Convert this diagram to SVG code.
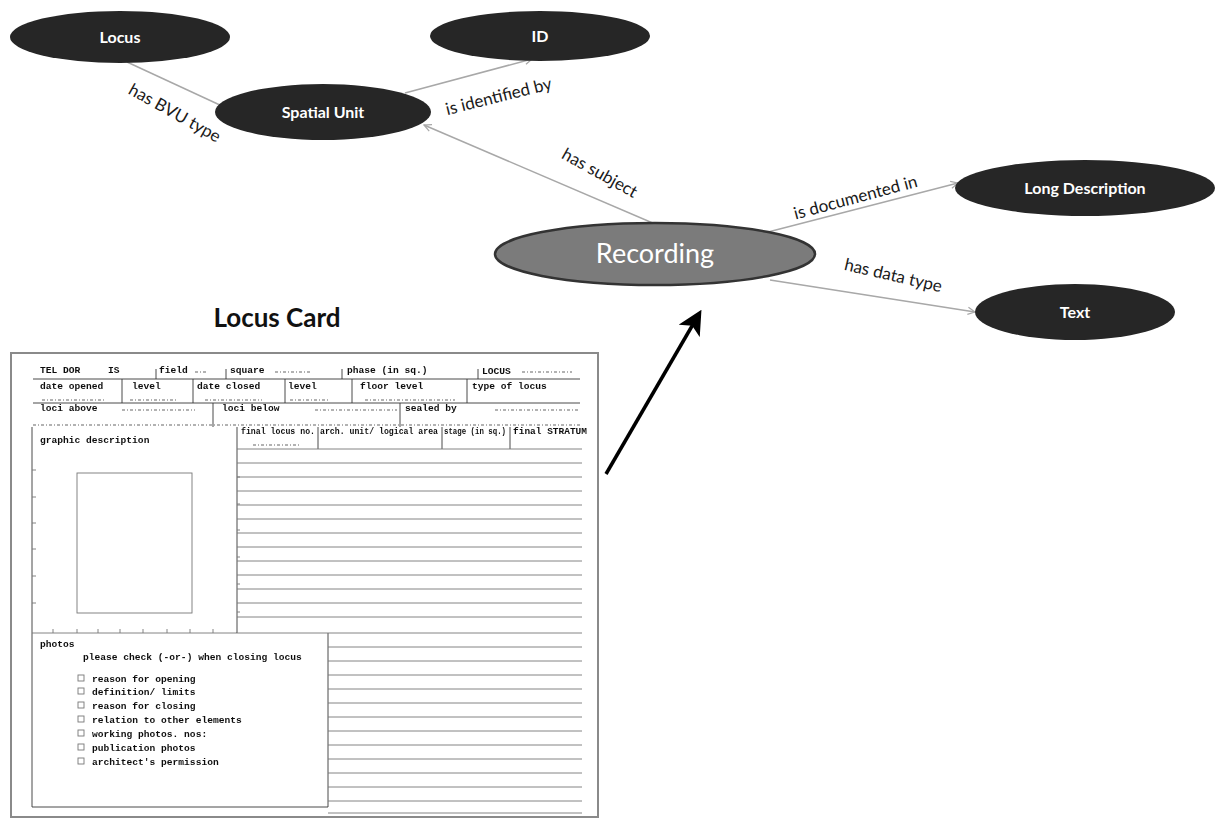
<svg xmlns="http://www.w3.org/2000/svg" width="1217" height="819" viewBox="0 0 1217 819">
  <defs>
    <marker id="chev" viewBox="0 0 10 10" refX="9" refY="5" markerWidth="9" markerHeight="9" orient="auto" markerUnits="userSpaceOnUse">
      <path d="M1,1 L9,5 L1,9" fill="none" stroke="#a8a8a8" stroke-width="1.4"/>
    </marker>
    <marker id="solid" viewBox="0 0 10 10" refX="8" refY="5" markerWidth="7" markerHeight="7" orient="auto">
      <path d="M0,0 L10,5 L0,10 L2.5,5 Z" fill="#000"/>
    </marker>
    <filter id="scan" x="-2%" y="-2%" width="104%" height="104%">
      <feGaussianBlur stdDeviation="0.35"/>
    </filter>
  </defs>
  <style>
    .node { fill: #262626; }
    .lbl { fill: #fff; font-family: Lato, "Open Sans", sans-serif; font-weight: bold; font-size: 16px; text-anchor: middle; }
    .edge { stroke: #a8a8a8; stroke-width: 1.5; fill: none; }
    .etxt { fill: #1a1a1a; font-family: Lato, "Open Sans", sans-serif; font-size: 17px; text-anchor: middle; }
    .ct { fill: #111; font-family: "Liberation Mono", "DejaVu Sans Mono", monospace; font-weight: bold; font-size: 9.6px; }
    .hd { font-size: 8.2px; }
    .rule { stroke: #333; stroke-width: 0.9; fill: none; }
    .soft { stroke: #777; stroke-width: 0.9; fill: none; }
    .scrib { stroke: #555; stroke-width: 0.9; fill: none; stroke-dasharray: 3 2 1 2; }
  </style>
  <rect width="1217" height="819" fill="#fff"/>

  <!-- connectors -->
  <g id="connectors">
    <line class="edge" x1="127" y1="62" x2="222" y2="106"/>
    <line class="edge" x1="405" y1="93" x2="532" y2="59" marker-end="url(#chev)"/>
    <line class="edge" x1="655" y1="224" x2="424" y2="125" marker-end="url(#chev)"/>
    <line class="edge" x1="768" y1="232" x2="958" y2="183" marker-end="url(#chev)"/>
    <line class="edge" x1="770" y1="280" x2="975" y2="312" marker-end="url(#chev)"/>
    <text class="etxt" transform="translate(172,118) rotate(29)">has BVU type</text>
    <text class="etxt" transform="translate(500,102) rotate(-14)">is identified by</text>
    <text class="etxt" transform="translate(597,178) rotate(29)">has subject</text>
    <text class="etxt" transform="translate(857,203) rotate(-15)">is documented in</text>
    <text class="etxt" transform="translate(892,281) rotate(13)">has data type</text>
    <line x1="606" y1="474" x2="699" y2="314" stroke="#000" stroke-width="3.5" marker-end="url(#solid)"/>
  </g>

  <g id="node-locus">
    <ellipse class="node" cx="120" cy="37" rx="110" ry="26"/>
    <text class="lbl" x="120" y="43">Locus</text>
  </g>
  <g id="node-id">
    <ellipse class="node" cx="540" cy="36" rx="110" ry="25"/>
    <text class="lbl" x="540" y="42">ID</text>
  </g>
  <g id="node-spatial-unit">
    <ellipse class="node" cx="323" cy="112" rx="108" ry="28"/>
    <text class="lbl" x="323" y="118" font-size="17">Spatial Unit</text>
  </g>
  <g id="node-recording">
    <ellipse cx="655" cy="254" rx="160" ry="31" fill="#7b7b7b" stroke="#333" stroke-width="2.5"/>
    <text x="655" y="263" fill="#fff" font-family="Lato, 'Open Sans', sans-serif" font-size="27" text-anchor="middle">Recording</text>
  </g>
  <g id="node-long-description">
    <ellipse class="node" cx="1085" cy="188" rx="130" ry="28"/>
    <text class="lbl" x="1085" y="194">Long Description</text>
  </g>
  <g id="node-text">
    <ellipse class="node" cx="1075" cy="312" rx="100" ry="28"/>
    <text class="lbl" x="1075" y="318">Text</text>
  </g>

  <!-- the locus card form -->
  <g id="locus-card">
    <text x="277" y="327" fill="#111" font-family="Lato, 'Open Sans', sans-serif" font-weight="bold" font-size="26" text-anchor="middle">Locus Card</text>
    <rect x="11" y="353" width="587" height="464" fill="#fff" stroke="#8a8a8a" stroke-width="2"/>
    <g filter="url(#scan)">
      <!-- header row 1 -->
      <text class="ct" x="40" y="373">TEL DOR</text>
      <text class="ct" x="108" y="373">IS</text>
      <text class="ct" x="159" y="373">field</text>
      <text class="ct" x="230" y="373">square</text>
      <text class="ct" x="347" y="373">phase (in sq.)</text>
      <text class="ct" x="482" y="374">LOCUS</text>
      <path class="scrib" d="M195,372 H207 M275,372 H312 M522,372 H572"/>
      <line class="rule" x1="33" y1="379" x2="580" y2="379"/>
      <path class="rule" d="M156,369 V379 M226,369 V379 M342,369 V379 M478,369 V379"/>
      <!-- header row 2 -->
      <text class="ct" x="40" y="389">date opened</text>
      <text class="ct" x="132" y="389">level</text>
      <text class="ct" x="197" y="389">date closed</text>
      <text class="ct" x="288" y="389">level</text>
      <text class="ct" x="360" y="389">floor level</text>
      <text class="ct" x="472" y="389">type of locus</text>
      <path class="scrib" d="M42,400 H105 M130,400 H178 M205,400 H262 M290,400 H330 M365,400 H455"/>
      <path class="rule" d="M122,379 V403 M193,379 V403 M285,379 V403 M352,379 V403 M467,379 V403"/>
      <line class="rule" x1="33" y1="403" x2="580" y2="403"/>
      <!-- header row 3 -->
      <text class="ct" x="40" y="411">loci above</text>
      <text class="ct" x="222" y="411">loci below</text>
      <text class="ct" x="405" y="411">sealed by</text>
      <path class="scrib" d="M122,410 H195 M315,410 H397 M495,410 H580"/>
      <path class="rule" d="M213,403 V427 M400,403 V427"/>
      <path class="scrib" d="M33,425 H580"/>
      <!-- left graphic panel -->
      <path class="rule" d="M32,427 V807 H328 V633"/>
      <text class="ct" x="40" y="443">graphic description</text>
      <rect x="77" y="473" width="115" height="140" class="soft"/>
      <path class="soft" d="M32,470 h4 M32,497 h4 M32,523 h4 M32,549 h4 M32,576 h4 M32,603 h4"/>
      <line class="soft" x1="32" y1="633" x2="237" y2="633"/>
      <path class="soft" d="M53,633 v-4 M77,633 v-4 M98,633 v-4 M120,633 v-4 M143,633 v-4 M167,633 v-4 M190,633 v-4 M213,633 v-4"/>
      <!-- right ruled panel -->
      <line class="rule" x1="237" y1="427" x2="237" y2="633"/>
      <path class="soft" d="M237,477 h3 M237,504 h3 M237,530 h3 M237,557 h3 M237,584 h3 M237,612 h3"/>
      <text class="ct hd" x="241" y="434" textLength="74" lengthAdjust="spacingAndGlyphs">final locus no.</text>
      <text class="ct hd" x="320" y="434" textLength="118" lengthAdjust="spacingAndGlyphs">arch. unit/ logical area</text>
      <text class="ct hd" x="444" y="434" textLength="62" lengthAdjust="spacingAndGlyphs">stage (in sq.)</text>
      <text class="ct" x="513" y="434" textLength="74" lengthAdjust="spacingAndGlyphs">final STRATUM</text>
      <path class="rule" d="M318,427 V449 M442,427 V449 M510,427 V449"/>
      <path class="scrib" d="M253,445 H300"/>
      <g class="soft">
        <line x1="237" y1="449" x2="582" y2="449"/>
        <line x1="237" y1="463" x2="582" y2="463"/>
        <line x1="237" y1="477" x2="582" y2="477"/>
        <line x1="237" y1="491" x2="582" y2="491"/>
        <line x1="237" y1="505" x2="582" y2="505"/>
        <line x1="237" y1="519" x2="582" y2="519"/>
        <line x1="237" y1="533" x2="582" y2="533"/>
        <line x1="237" y1="547" x2="582" y2="547"/>
        <line x1="237" y1="561" x2="582" y2="561"/>
        <line x1="237" y1="575" x2="582" y2="575"/>
        <line x1="237" y1="589" x2="582" y2="589"/>
        <line x1="237" y1="603" x2="582" y2="603"/>
        <line x1="237" y1="617" x2="582" y2="617"/>
        <line x1="237" y1="633" x2="582" y2="633"/>
        <line x1="328" y1="647" x2="582" y2="647"/>
        <line x1="328" y1="661" x2="582" y2="661"/>
        <line x1="328" y1="675" x2="582" y2="675"/>
        <line x1="328" y1="689" x2="582" y2="689"/>
        <line x1="328" y1="703" x2="582" y2="703"/>
        <line x1="328" y1="717" x2="582" y2="717"/>
        <line x1="328" y1="731" x2="582" y2="731"/>
        <line x1="328" y1="745" x2="582" y2="745"/>
        <line x1="328" y1="759" x2="582" y2="759"/>
        <line x1="328" y1="773" x2="582" y2="773"/>
        <line x1="328" y1="787" x2="582" y2="787"/>
        <line x1="328" y1="801" x2="582" y2="801"/>
        <line x1="328" y1="813" x2="582" y2="813"/>
      </g>
      <!-- photos box -->
      <text class="ct" x="40" y="647">photos</text>
      <text class="ct" x="83" y="660">please check (-or-) when closing locus</text>
      <g class="soft">
        <rect x="78" y="675" width="6" height="6"/>
        <rect x="78" y="688" width="6" height="6"/>
        <rect x="78" y="702" width="6" height="6"/>
        <rect x="78" y="716" width="6" height="6"/>
        <rect x="78" y="730" width="6" height="6"/>
        <rect x="78" y="744" width="6" height="6"/>
        <rect x="78" y="758" width="6" height="6"/>
      </g>
      <text class="ct" x="92" y="682">reason for opening</text>
      <text class="ct" x="92" y="695">definition/ limits</text>
      <text class="ct" x="92" y="709">reason for closing</text>
      <text class="ct" x="92" y="723">relation to other elements</text>
      <text class="ct" x="92" y="737">working photos. nos:</text>
      <text class="ct" x="92" y="751">publication photos</text>
      <text class="ct" x="92" y="765">architect's permission</text>
    </g>
  </g>
</svg>
